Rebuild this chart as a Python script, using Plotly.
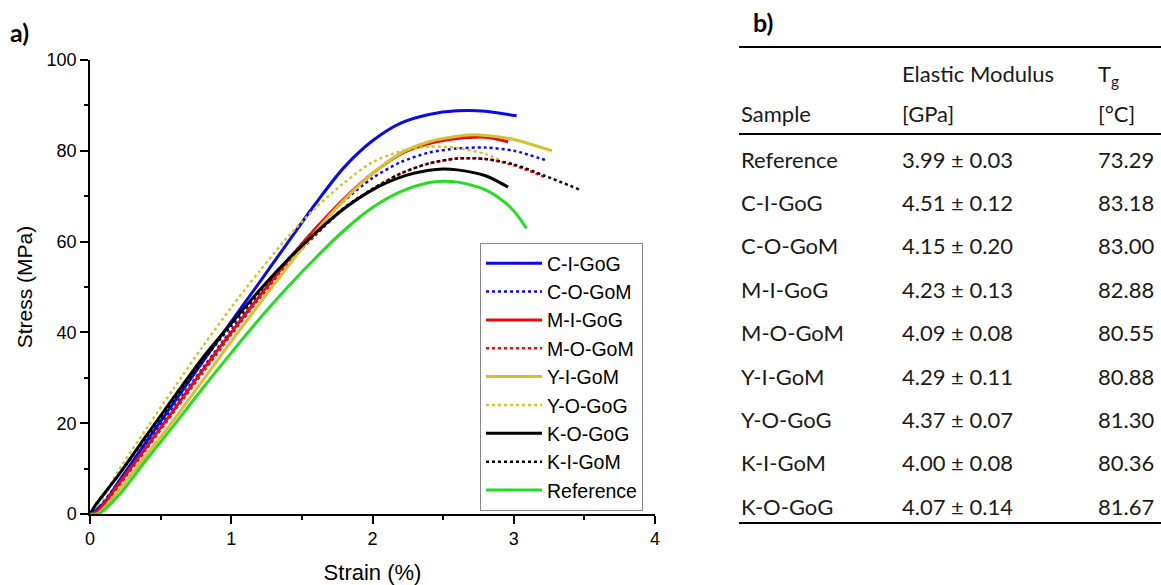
import plotly.graph_objects as go

# ---------------- data ----------------
ci_gog_strain = [0, 0.1, 0.2, 0.4, 0.6, 0.8, 1.0, 1.2, 1.4, 1.6, 1.8, 2.0, 2.2, 2.4, 2.6, 2.8, 3.02]
ci_gog_stress = [0, 2.5, 7, 16, 24.8, 33.6, 42.4, 51, 59.8, 68.5, 76.4, 82.2, 86.1, 88.0, 88.8, 88.7, 87.7]

co_gom_strain = [0, 0.05, 0.2, 0.4, 0.6, 0.8, 1.0, 1.2, 1.4, 1.6, 1.8, 2.0, 2.2, 2.4, 2.6, 2.8, 3.0, 3.24]
co_gom_stress = [0, 1, 7, 15.3, 23.8, 32.2, 40.5, 48.5, 56, 63, 69, 74, 77.5, 79.6, 80.5, 80.7, 80.0, 77.8]

mi_gog_strain = [0, 0.05, 0.2, 0.4, 0.6, 0.8, 1.0, 1.2, 1.4, 1.6, 1.8, 2.0, 2.2, 2.4, 2.6, 2.8, 2.96]
mi_gog_stress = [0, 0.5, 6.5, 14.8, 23.2, 31.8, 40, 48, 55.8, 63, 69.5, 75, 79.3, 81.6, 82.7, 83.0, 82.0]

mo_gom_strain = [0, 0.06, 0.2, 0.4, 0.6, 0.8, 1.0, 1.2, 1.4, 1.6, 1.8, 2.0, 2.2, 2.4, 2.6, 2.8, 3.0, 3.22]
mo_gom_stress = [0, 0.5, 6, 14.3, 22.8, 31.2, 39.5, 47.5, 55, 61.5, 67.3, 71.6, 75, 77.2, 78.3, 78.2, 76.8, 74.2]

yi_gom_strain = [0, 0.05, 0.2, 0.4, 0.6, 0.8, 1.0, 1.2, 1.4, 1.6, 1.8, 2.0, 2.2, 2.4, 2.6, 2.75, 3.0, 3.27]
yi_gom_stress = [0, 0, 5, 13, 21, 29.5, 38, 46.3, 54.5, 62.3, 69.2, 75, 79.5, 82.0, 83.2, 83.5, 82.5, 80.0]

yo_gog_strain = [0, 0.1, 0.2, 0.4, 0.6, 0.8, 1.0, 1.2, 1.4, 1.6, 1.8, 2.0, 2.2, 2.4, 2.6, 2.8, 2.89]
yo_gog_stress = [0, 4, 9.5, 18.8, 28, 37, 45.5, 53.5, 61, 67.5, 73, 77.5, 79.9, 80.9, 80.6, 79.3, 78.1]

ko_gog_strain = [0, 0.04, 0.2, 0.4, 0.6, 0.8, 1.0, 1.2, 1.4, 1.6, 1.8, 2.0, 2.2, 2.4, 2.5, 2.6, 2.8, 2.96]
ko_gog_stress = [0, 2, 8.5, 17.3, 26, 34.5, 42, 49.3, 56, 62, 67.3, 71.4, 74.2, 75.7, 76.0, 75.8, 74.5, 72.0]

ki_gom_strain = [0, 0.04, 0.2, 0.4, 0.6, 0.8, 1.0, 1.2, 1.4, 1.6, 1.8, 2.0, 2.2, 2.4, 2.6, 2.8, 3.0, 3.22, 3.47]
ki_gom_stress = [0, 2, 8.5, 17, 25.5, 33.8, 41.5, 49, 56, 62, 67.5, 71.6, 75, 77.2, 78.3, 78.2, 77.0, 74.5, 71.4]

ref_strain = [0, 0.06, 0.2, 0.4, 0.6, 0.8, 1.0, 1.2, 1.4, 1.6, 1.8, 2.0, 2.2, 2.4, 2.5, 2.6, 2.8, 2.95, 3.02, 3.09]
ref_stress = [0, 0, 4, 12, 19.8, 27.8, 35.5, 43, 50, 56.5, 62.5, 67.5, 71, 73, 73.3, 73.1, 71.4, 68.3, 66.0, 62.9]

x_ticks = [0, 1, 2, 3, 4]
y_ticks = [0, 20, 40, 60, 80, 100]

# table b)
table_samples = ["Reference", "C-I-GoG", "C-O-GoM", "M-I-GoG", "M-O-GoM",
                 "Y-I-GoM", "Y-O-GoG", "K-I-GoM", "K-O-GoG"]
table_modulus = ["3.99 ± 0.03", "4.51 ± 0.12", "4.15 ± 0.20", "4.23 ± 0.13", "4.09 ± 0.08",
                 "4.29 ± 0.11", "4.37 ± 0.07", "4.00 ± 0.08", "4.07 ± 0.14"]
table_tg = ["73.29", "83.18", "83.00", "82.88", "80.55", "80.88", "81.30", "80.36", "81.67"]

# ---------------- styles ----------------
BLUE = "#0a0ae6"
RED = "#ee0a0a"
YEL = "#d4c232"
BLACK = "#000000"
GREEN = "#22dd22"

series = [
    ("C-I-GoG", ci_gog_strain, ci_gog_stress, BLUE, "solid", 3),
    ("C-O-GoM", co_gom_strain, co_gom_stress, BLUE, "dot", 2.5),
    ("M-I-GoG", mi_gog_strain, mi_gog_stress, RED, "solid", 3),
    ("M-O-GoM", mo_gom_strain, mo_gom_stress, RED, "dot", 2.5),
    ("Y-I-GoM", yi_gom_strain, yi_gom_stress, YEL, "solid", 3),
    ("Y-O-GoG", yo_gog_strain, yo_gog_stress, YEL, "dot", 2.5),
    ("K-O-GoG", ko_gog_strain, ko_gog_stress, BLACK, "solid", 3),
    ("K-I-GoM", ki_gom_strain, ki_gom_stress, BLACK, "dot", 2.5),
    ("Reference", ref_strain, ref_stress, GREEN, "solid", 3),
]

fig = go.Figure()
for name, xs, ys, col, dash, w in series:
    fig.add_trace(go.Scatter(
        x=xs, y=ys, name=name, mode="lines",
        line=dict(color=col, dash=dash, width=w, shape="spline", smoothing=0.8),
    ))

W, H = 1161, 585
L, R, T, B = 90, 655, 60, 514


def px_x(px):
    return (px - L) / (R - L)


def px_y(py):
    return (B - py) / (B - T)


AX_FONT = "Liberation Sans, Arial, sans-serif"
TAB_FONT = "Lato, Carlito, Calibri, sans-serif"

fig.update_layout(
    width=W, height=H, autosize=False,
    margin=dict(l=L, r=W - R, t=T, b=H - B, pad=0, autoexpand=False),
    paper_bgcolor="white", plot_bgcolor="white",
    font=dict(family=AX_FONT, color="black"),
    showlegend=True,
    legend=dict(
        x=px_x(480), y=px_y(243), xanchor="left", yanchor="top",
        bgcolor="white", bordercolor="#888888", borderwidth=1,
        font=dict(family=AX_FONT, size=19.5, color="black"),
        itemwidth=56, tracegroupgap=0,
    ),
    xaxis=dict(
        range=[0, 4], tickvals=x_ticks, ticktext=[str(v) for v in x_ticks],
        showgrid=False, zeroline=False, showline=True, linecolor="black", linewidth=1.5,
        ticks="outside", ticklen=8, tickwidth=1.5, tickcolor="black",
        tickfont=dict(size=18, family=AX_FONT),
        minor=dict(ticks="outside", dtick=0.5, ticklen=4, tickwidth=1.5, tickcolor="black", showgrid=False),
        title=dict(text="Strain (%)", font=dict(size=22, family=AX_FONT), standoff=16),
        automargin=False, fixedrange=True,
    ),
    yaxis=dict(
        range=[0, 100], tickvals=y_ticks, ticktext=[str(v) for v in y_ticks],
        showgrid=False, zeroline=False, showline=True, linecolor="black", linewidth=1.5,
        ticks="outside", ticklen=8, tickwidth=1.5, tickcolor="black",
        tickfont=dict(size=18, family=AX_FONT),
        minor=dict(ticks="outside", dtick=10, ticklen=4, tickwidth=1.5, tickcolor="black", showgrid=False),
        title=dict(text="Stress (MPa)", font=dict(size=21, family=AX_FONT), standoff=8),
        automargin=False, fixedrange=True,
    ),
)

annotations = []
shapes = []

# panel labels
annotations.append(dict(text="<b>a)</b>", x=px_x(8), y=px_y(32), xref="paper", yref="paper",
                        xanchor="left", yanchor="middle", showarrow=False,
                        font=dict(family=TAB_FONT, size=25, color="black")))
annotations.append(dict(text="<b>b)</b>", x=px_x(751), y=px_y(22), xref="paper", yref="paper",
                        xanchor="left", yanchor="middle", showarrow=False,
                        font=dict(family=TAB_FONT, size=25, color="black")))

# table rules
for yy in (47, 134, 523):
    shapes.append(dict(type="line", xref="paper", yref="paper",
                       x0=px_x(739), x1=px_x(1161), y0=px_y(yy), y1=px_y(yy),
                       line=dict(color="black", width=2)))

col_x = [739, 900, 1096]
TAB_TXT = dict(family=TAB_FONT, size=22, color="#1a1a1a")


def cell(text, cx, cy):
    annotations.append(dict(text=text, x=px_x(cx), y=px_y(cy), xref="paper", yref="paper",
                            xanchor="left", yanchor="middle", showarrow=False, font=TAB_TXT))


cell("Elastic Modulus", col_x[1], 73)
cell("T<sub>g</sub>", col_x[2], 75)
cell("Sample", col_x[0], 113)
cell("[GPa]", col_x[1], 113)
cell("[°C]", col_x[2], 113)

row_y0, row_dy = 159, 43.4
for i, (s, m, t) in enumerate(zip(table_samples, table_modulus, table_tg)):
    yy = row_y0 + i * row_dy
    cell(s, col_x[0], yy)
    cell(m, col_x[1], yy)
    cell(t, col_x[2], yy)

fig.update_layout(annotations=annotations, shapes=shapes)

fig.write_html(
    "out.html",
    config={"displayModeBar": False, "staticPlot": False},
    post_script="document.documentElement.style.margin='0';document.body.style.margin='0';"
                "document.body.style.padding='0';document.body.style.overflow='hidden';",
)
